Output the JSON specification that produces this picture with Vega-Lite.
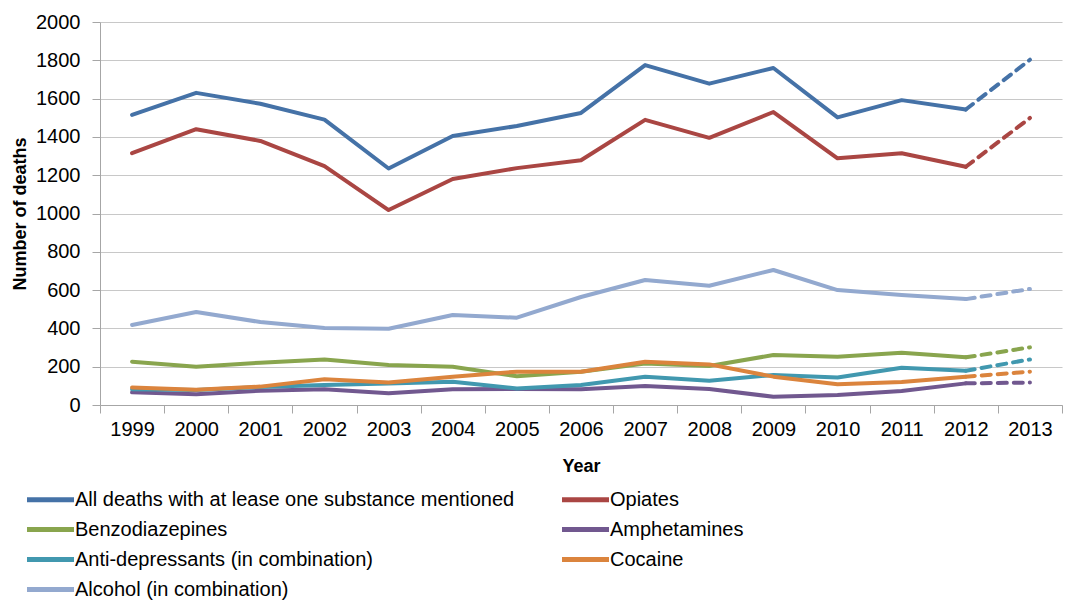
{
  "$schema": "https://vega.github.io/schema/vega-lite/v6.json",
  "width": 962,
  "height": 383,
  "autosize": "none",
  "padding": {"left": 100, "top": 22, "right": 8, "bottom": 206},
  "background": "white",
  "config": {
    "font": "Liberation Sans",
    "view": {"stroke": null}
  },
  "datasets": {
    "raw": [
      {"year": 1999, "series": "All deaths with at lease one substance mentioned", "value": 1515},
      {"year": 2000, "series": "All deaths with at lease one substance mentioned", "value": 1630},
      {"year": 2001, "series": "All deaths with at lease one substance mentioned", "value": 1573},
      {"year": 2002, "series": "All deaths with at lease one substance mentioned", "value": 1490},
      {"year": 2003, "series": "All deaths with at lease one substance mentioned", "value": 1235},
      {"year": 2004, "series": "All deaths with at lease one substance mentioned", "value": 1405},
      {"year": 2005, "series": "All deaths with at lease one substance mentioned", "value": 1457},
      {"year": 2006, "series": "All deaths with at lease one substance mentioned", "value": 1525},
      {"year": 2007, "series": "All deaths with at lease one substance mentioned", "value": 1775},
      {"year": 2008, "series": "All deaths with at lease one substance mentioned", "value": 1678},
      {"year": 2009, "series": "All deaths with at lease one substance mentioned", "value": 1760},
      {"year": 2010, "series": "All deaths with at lease one substance mentioned", "value": 1502},
      {"year": 2011, "series": "All deaths with at lease one substance mentioned", "value": 1592},
      {"year": 2012, "series": "All deaths with at lease one substance mentioned", "value": 1543},
      {"year": 2013, "series": "All deaths with at lease one substance mentioned", "value": 1803},
      {"year": 1999, "series": "Opiates", "value": 1315},
      {"year": 2000, "series": "Opiates", "value": 1440},
      {"year": 2001, "series": "Opiates", "value": 1379},
      {"year": 2002, "series": "Opiates", "value": 1247},
      {"year": 2003, "series": "Opiates", "value": 1018},
      {"year": 2004, "series": "Opiates", "value": 1180},
      {"year": 2005, "series": "Opiates", "value": 1237},
      {"year": 2006, "series": "Opiates", "value": 1278},
      {"year": 2007, "series": "Opiates", "value": 1489},
      {"year": 2008, "series": "Opiates", "value": 1395},
      {"year": 2009, "series": "Opiates", "value": 1530},
      {"year": 2010, "series": "Opiates", "value": 1288},
      {"year": 2011, "series": "Opiates", "value": 1315},
      {"year": 2012, "series": "Opiates", "value": 1244},
      {"year": 2013, "series": "Opiates", "value": 1499},
      {"year": 1999, "series": "Benzodiazepines", "value": 226},
      {"year": 2000, "series": "Benzodiazepines", "value": 200},
      {"year": 2001, "series": "Benzodiazepines", "value": 221},
      {"year": 2002, "series": "Benzodiazepines", "value": 238},
      {"year": 2003, "series": "Benzodiazepines", "value": 209},
      {"year": 2004, "series": "Benzodiazepines", "value": 200},
      {"year": 2005, "series": "Benzodiazepines", "value": 150},
      {"year": 2006, "series": "Benzodiazepines", "value": 174},
      {"year": 2007, "series": "Benzodiazepines", "value": 217},
      {"year": 2008, "series": "Benzodiazepines", "value": 204},
      {"year": 2009, "series": "Benzodiazepines", "value": 261},
      {"year": 2010, "series": "Benzodiazepines", "value": 252},
      {"year": 2011, "series": "Benzodiazepines", "value": 273},
      {"year": 2012, "series": "Benzodiazepines", "value": 249},
      {"year": 2013, "series": "Benzodiazepines", "value": 301},
      {"year": 1999, "series": "Amphetamines", "value": 66},
      {"year": 2000, "series": "Amphetamines", "value": 56},
      {"year": 2001, "series": "Amphetamines", "value": 75},
      {"year": 2002, "series": "Amphetamines", "value": 82},
      {"year": 2003, "series": "Amphetamines", "value": 61},
      {"year": 2004, "series": "Amphetamines", "value": 82},
      {"year": 2005, "series": "Amphetamines", "value": 84},
      {"year": 2006, "series": "Amphetamines", "value": 82},
      {"year": 2007, "series": "Amphetamines", "value": 99},
      {"year": 2008, "series": "Amphetamines", "value": 84},
      {"year": 2009, "series": "Amphetamines", "value": 43},
      {"year": 2010, "series": "Amphetamines", "value": 52},
      {"year": 2011, "series": "Amphetamines", "value": 73},
      {"year": 2012, "series": "Amphetamines", "value": 113},
      {"year": 2013, "series": "Amphetamines", "value": 117},
      {"year": 1999, "series": "Anti-depressants (in combination)", "value": 82},
      {"year": 2000, "series": "Anti-depressants (in combination)", "value": 78},
      {"year": 2001, "series": "Anti-depressants (in combination)", "value": 94},
      {"year": 2002, "series": "Anti-depressants (in combination)", "value": 104},
      {"year": 2003, "series": "Anti-depressants (in combination)", "value": 112},
      {"year": 2004, "series": "Anti-depressants (in combination)", "value": 122},
      {"year": 2005, "series": "Anti-depressants (in combination)", "value": 86},
      {"year": 2006, "series": "Anti-depressants (in combination)", "value": 104},
      {"year": 2007, "series": "Anti-depressants (in combination)", "value": 148},
      {"year": 2008, "series": "Anti-depressants (in combination)", "value": 127},
      {"year": 2009, "series": "Anti-depressants (in combination)", "value": 157},
      {"year": 2010, "series": "Anti-depressants (in combination)", "value": 144},
      {"year": 2011, "series": "Anti-depressants (in combination)", "value": 195},
      {"year": 2012, "series": "Anti-depressants (in combination)", "value": 179},
      {"year": 2013, "series": "Anti-depressants (in combination)", "value": 238},
      {"year": 1999, "series": "Cocaine", "value": 92},
      {"year": 2000, "series": "Cocaine", "value": 80},
      {"year": 2001, "series": "Cocaine", "value": 96},
      {"year": 2002, "series": "Cocaine", "value": 134},
      {"year": 2003, "series": "Cocaine", "value": 118},
      {"year": 2004, "series": "Cocaine", "value": 148},
      {"year": 2005, "series": "Cocaine", "value": 174},
      {"year": 2006, "series": "Cocaine", "value": 174},
      {"year": 2007, "series": "Cocaine", "value": 226},
      {"year": 2008, "series": "Cocaine", "value": 212},
      {"year": 2009, "series": "Cocaine", "value": 148},
      {"year": 2010, "series": "Cocaine", "value": 108},
      {"year": 2011, "series": "Cocaine", "value": 120},
      {"year": 2012, "series": "Cocaine", "value": 148},
      {"year": 2013, "series": "Cocaine", "value": 174},
      {"year": 1999, "series": "Alcohol (in combination)", "value": 418},
      {"year": 2000, "series": "Alcohol (in combination)", "value": 486},
      {"year": 2001, "series": "Alcohol (in combination)", "value": 433},
      {"year": 2002, "series": "Alcohol (in combination)", "value": 402},
      {"year": 2003, "series": "Alcohol (in combination)", "value": 398},
      {"year": 2004, "series": "Alcohol (in combination)", "value": 470},
      {"year": 2005, "series": "Alcohol (in combination)", "value": 456},
      {"year": 2006, "series": "Alcohol (in combination)", "value": 564},
      {"year": 2007, "series": "Alcohol (in combination)", "value": 653},
      {"year": 2008, "series": "Alcohol (in combination)", "value": 623},
      {"year": 2009, "series": "Alcohol (in combination)", "value": 705},
      {"year": 2010, "series": "Alcohol (in combination)", "value": 600},
      {"year": 2011, "series": "Alcohol (in combination)", "value": 575},
      {"year": 2012, "series": "Alcohol (in combination)", "value": 553},
      {"year": 2013, "series": "Alcohol (in combination)", "value": 606}
    ]
  },
  "data": {"name": "raw"},
  "encoding": {
    "x": {
      "field": "year",
      "type": "ordinal",
      "bandPosition": 0.5,
      "scale": {"type": "band", "paddingInner": 0, "paddingOuter": 0, "domain": [1999,2000,2001,2002,2003,2004,2005,2006,2007,2008,2009,2010,2011,2012,2013]},
      "axis": {
        "title": "Year",
        "titleFontSize": 18,
        "titleFontWeight": "bold",
        "titleColor": "#000000",
        "titlePadding": 18,
        "labelFontSize": 20,
        "labelColor": "#000000",
        "labelAngle": 0,
        "labelPadding": 6,
        "tickBand": "extent",
        "tickSize": 8,
        "tickColor": "#a6a6a6",
        "domainColor": "#a6a6a6",
        "grid": false
      }
    },
    "y": {
      "field": "value",
      "type": "quantitative",
      "scale": {"domain": [0, 2000], "nice": false},
      "axis": {
        "title": "Number of deaths",
        "titleFontSize": 18,
        "titleFontWeight": "bold",
        "titleColor": "#000000",
        "titlePadding": 6,
        "values": [0,200,400,600,800,1000,1200,1400,1600,1800,2000],
        "format": "d",
        "labelFontSize": 20,
        "labelColor": "#000000",
        "labelPadding": 12,
        "tickSize": 8,
        "tickColor": "#a6a6a6",
        "domainColor": "#a6a6a6",
        "gridColor": "#c8c8c8",
        "gridWidth": 1.2
      }
    },
    "color": {
      "field": "series",
      "type": "nominal",
      "scale": {
        "domain": ["All deaths with at lease one substance mentioned", "Opiates", "Benzodiazepines", "Amphetamines", "Anti-depressants (in combination)", "Cocaine", "Alcohol (in combination)"],
        "range": ["#4572A7", "#AA4643", "#89A54E", "#71588F", "#4198AF", "#DB843D", "#93A9CF"]
      }
    }
  },
  "layer": [
    {
      "transform": [{"filter": "datum.year <= 2012"}],
      "mark": {"type": "line", "strokeWidth": 4, "strokeJoin": "round", "strokeCap": "round"},
      "encoding": {
        "color": {
          "field": "series",
          "type": "nominal",
          "legend": {
            "title": null,
            "orient": "none",
            "direction": "horizontal",
            "legendX": -62,
            "legendY": 465,
            "columns": 2,
            "columnPadding": 37,
            "rowPadding": 7,
            "symbolType": "M-2.35,0L2.35,0",
            "symbolStrokeWidth": 5,
            "symbolSize": 400,
            "labelFontSize": 20,
            "labelColor": "#000000",
            "labelOffset": 12,
            "labelLimit": 600
          }
        }
      }
    },
    {
      "transform": [{"filter": "datum.year >= 2012"}],
      "mark": {"type": "line", "strokeWidth": 4, "strokeDash": [9, 7], "strokeCap": "round"},
      "encoding": {
        "color": {"field": "series", "type": "nominal", "legend": null}
      }
    }
  ]
}
